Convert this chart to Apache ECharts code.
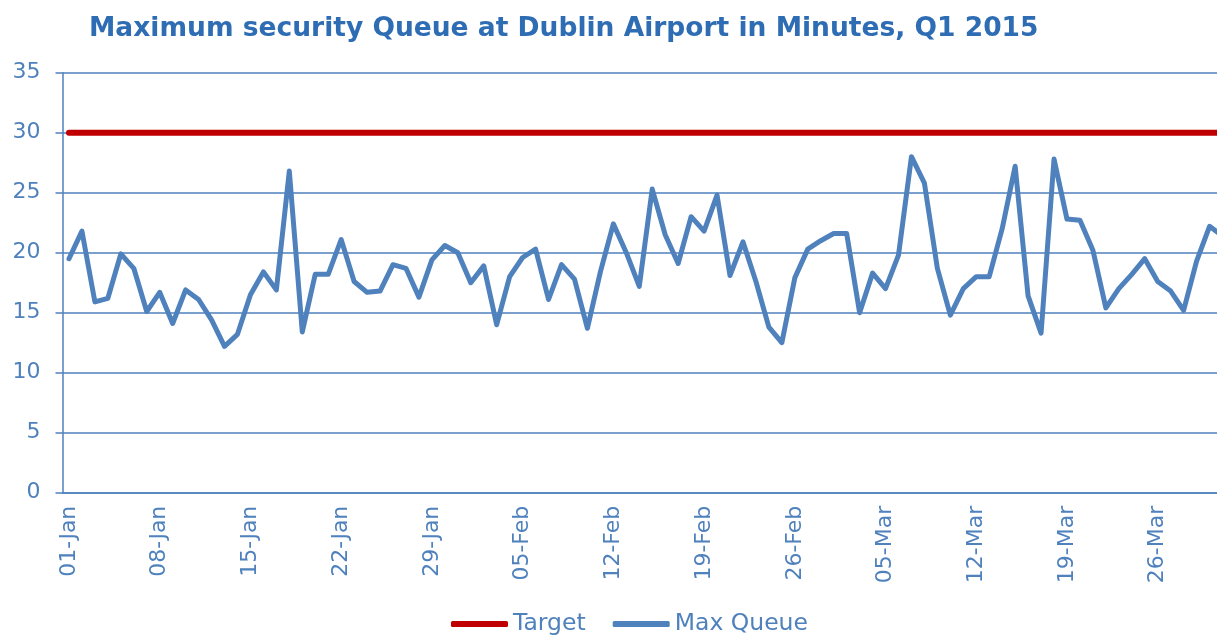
<!DOCTYPE html>
<html>
<head>
<meta charset="utf-8">
<script src="https://cdn.jsdelivr.net/npm/echarts@6/dist/echarts.min.js"></script>
<style>
  html, body { margin: 0; padding: 0; background: #fff; overflow: hidden; }
  /* the plot runs a little past the right edge of the window, as in the original */
  #chart { width: 1229px; height: 635px; }
</style>
</head>
<body>
<div id="chart"></div>
<script>
// Q1 2015, one category per day
const months = [["Jan", 31], ["Feb", 28], ["Mar", 31]];
const days = [];
months.forEach(([m, n]) => {
  for (let d = 1; d <= n; d++) days.push((d < 10 ? "0" : "") + d + "-" + m);
});

// max queue in minutes
const maxQueue = [
  19.5, 21.8, 15.9, 16.2, 19.9, 18.7, 15.1, 16.7, 14.1, 16.9,
  16.1, 14.4, 12.2, 13.2, 16.5, 18.4, 16.9, 26.8, 13.4, 18.2,
  18.2, 21.1, 17.6, 16.7, 16.8, 19.0, 18.7, 16.3, 19.4, 20.6,
  20.0, 17.5, 18.9, 14.0, 18.0, 19.6, 20.3, 16.1, 19.0, 17.8,
  13.7, 18.4, 22.4, 20.0, 17.2, 25.3, 21.5, 19.1, 23.0, 21.8,
  24.8, 18.1, 20.9, 17.6, 13.8, 12.5, 17.9, 20.3, 21.0, 21.6,
  21.6, 15.0, 18.3, 17.0, 19.8, 28.0, 25.8, 18.7, 14.8, 17.0,
  18.0, 18.0, 22.0, 27.2, 16.4, 13.3, 27.8, 22.8, 22.7, 20.2,
  15.4, 17.0, 18.2, 19.5, 17.6, 16.8, 15.2, 19.3, 22.2, 21.4
];
const target = 30;
const yTicks = [0, 35, 5]; // min, max, step

const blue = "#4F81BD";
const red = "#C00000";
const font = "DejaVu Sans";

const chart = echarts.init(document.getElementById("chart"));
chart.setOption({
  animation: false,
  textStyle: { fontFamily: font },
  title: {
    text: "Maximum security Queue at Dublin Airport in Minutes, Q1 2015",
    left: 84,
    top: 11,
    textStyle: { fontFamily: font, fontSize: 26.5, fontWeight: "bold", color: "#2E6DB4" },
  },
  legend: {
    data: ["Target", "Max Queue"],
    left: 446,
    top: 607,
    icon: "roundRect",
    itemWidth: 57,
    itemHeight: 6,
    itemGap: 27,
    textStyle: { fontFamily: font, fontSize: 23.5, color: blue },
  },
  grid: { left: 62.5, right: 0, top: 72.7, bottom: 142.3, containLabel: false },
  xAxis: {
    type: "category",
    data: days,
    boundaryGap: true,
    axisLine: { lineStyle: { color: blue, width: 1.5 } },
    axisTick: { interval: 6, length: 6, lineStyle: { color: blue, width: 1.5 } },
    axisLabel: { interval: 6, rotate: 90, margin: 13, fontSize: 22, color: blue, fontFamily: font },
    splitLine: { show: false },
  },
  yAxis: {
    type: "value",
    min: yTicks[0],
    max: yTicks[1],
    interval: yTicks[2],
    axisLine: { show: true, lineStyle: { color: blue, width: 1.5 } },
    axisTick: { show: true, length: 7, lineStyle: { color: blue, width: 1.5 } },
    axisLabel: { margin: 22, fontSize: 22, color: blue, fontFamily: font },
    splitLine: { lineStyle: { color: blue, width: 1.5 } },
  },
  series: [
    {
      name: "Target",
      type: "line",
      data: days.map(() => target),
      symbol: "none",
      lineStyle: { color: red, width: 6, cap: "round" },
      itemStyle: { color: red },
    },
    {
      name: "Max Queue",
      type: "line",
      data: maxQueue,
      symbol: "none",
      lineStyle: { color: blue, width: 5, join: "round", cap: "round" },
      itemStyle: { color: blue },
    },
  ],
});
</script>
</body>
</html>
